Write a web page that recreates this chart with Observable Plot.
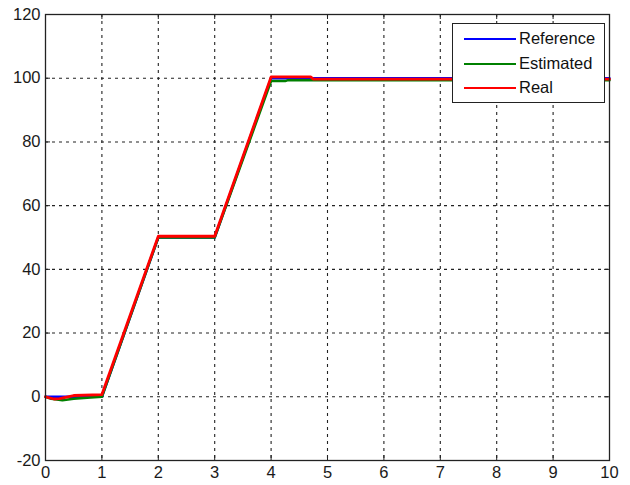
<!DOCTYPE html>
<html>
<head>
<meta charset="utf-8">
<script src="https://cdn.jsdelivr.net/npm/d3@7"></script>
<script src="https://cdn.jsdelivr.net/npm/@observablehq/plot@0.6"></script>
<style>
  html, body { margin: 0; padding: 0; background: white; }
  #wrap { position: relative; width: 630px; height: 485px; font-family: "Liberation Sans", Arial, sans-serif; }
  #legend { position: absolute; left: 452px; top: 23px; width: 151px; height: 78px; border: 1.5px solid #222; background: white; }
  .sw { position: absolute; left: 11px; width: 52px; height: 0; border-top: 2.5px solid; }
  .lab { position: absolute; left: 66px; font-size: 16.5px; color: #111; white-space: nowrap; line-height: 18px; }
</style>
</head>
<body>
<div id="wrap"></div>
<script>
// ---- data ----
const seriesNames = ["Reference", "Estimated", "Real"];
const seriesColors = ["#0000ff", "#008000", "#ff0000"];

const tRef = [0, 1, 2, 3, 4, 10];
const yRef = [0, 0, 50, 50, 100, 100];

const tEst = [0, 0.1, 0.3, 0.5, 0.8, 1, 2, 3, 4, 4.25, 4.3, 10];
const yEst = [0, -0.6, -1.1, -0.6, -0.2, 0, 50, 50, 99.1, 99.1, 99.4, 99.4];

const tReal = [0, 0.15, 0.25, 0.5, 1, 2, 3, 4, 4.7, 4.75, 10];
const yReal = [0, -0.7, -0.6, 0.4, 0.7, 50.4, 50.4, 100.4, 100.4, 99.7, 99.7];

const xTicks = [0, 1, 2, 3, 4, 5, 6, 7, 8, 9, 10];
const yTicks = [-20, 0, 20, 40, 60, 80, 100, 120];

// ---- build table ----
const rows = [];
[[tRef, yRef], [tEst, yEst], [tReal, yReal]].forEach(([ts, ys], i) => {
  ts.forEach((t, j) => rows.push({series: seriesNames[i], t, v: ys[j]}));
});

const W = 630, H = 485;
const mL = 45, mR = 21, mT = 14, mB = 25;
const plotH = H - mT - mB, plotW = W - mL - mR;
const tickLen = 5;

const innerX = xTicks.slice(1, -1);
const innerY = yTicks.slice(1, -1);

const chart = Plot.plot({
  width: W,
  height: H,
  marginLeft: mL,
  marginRight: mR,
  marginTop: mT,
  marginBottom: mB,
  style: {fontSize: "16.5px", fontFamily: "Liberation Sans, Arial, sans-serif", color: "#1a1a1a", background: "white"},
  x: {domain: [0, 10], ticks: xTicks, label: null},
  y: {domain: [-20, 120], ticks: yTicks, label: null},
  marks: [
    Plot.ruleX(innerX, {x: d => d, stroke: "#222", strokeWidth: 1.1, strokeDasharray: "3,4"}),
    Plot.ruleY(innerY, {y: d => d, stroke: "#222", strokeWidth: 1.1, strokeDasharray: "3,4"}),
    // inward solid ticks on all four sides
    Plot.ruleX(innerX, {x: d => d, stroke: "#222", insetTop: plotH - tickLen}),
    Plot.ruleX(innerX, {x: d => d, stroke: "#222", insetBottom: plotH - tickLen}),
    Plot.ruleY(innerY, {y: d => d, stroke: "#222", insetRight: plotW - tickLen}),
    Plot.ruleY(innerY, {y: d => d, stroke: "#222", insetLeft: plotW - tickLen}),
    Plot.line(rows.filter(d => d.series === "Reference"), {x: "t", y: "v", stroke: seriesColors[0], strokeWidth: 2.5}),
    Plot.line(rows.filter(d => d.series === "Estimated"), {x: "t", y: "v", stroke: seriesColors[1], strokeWidth: 2.5}),
    Plot.line(rows.filter(d => d.series === "Real"), {x: "t", y: "v", stroke: seriesColors[2], strokeWidth: 2.8}),
    Plot.frame({stroke: "#222", strokeWidth: 1.3}),
    Plot.axisX({ticks: xTicks, tickSize: 0, tickPadding: 6, tickFormat: d => String(d), label: null}),
    Plot.axisY({ticks: yTicks, tickSize: 0, tickPadding: 5, tickFormat: d => String(d), label: null})
  ]
});

const wrap = document.getElementById("wrap");
wrap.appendChild(chart);

// ---- legend ----
const legend = document.createElement("div");
legend.id = "legend";
const rowTops = [15, 40, 64];
seriesNames.forEach((name, i) => {
  const sw = document.createElement("div");
  sw.className = "sw";
  sw.style.top = (rowTops[i] - 1) + "px";
  sw.style.borderTopColor = seriesColors[i];
  legend.appendChild(sw);
  const lab = document.createElement("div");
  lab.className = "lab";
  lab.style.top = (rowTops[i] - 10) + "px";
  lab.textContent = name;
  legend.appendChild(lab);
});
wrap.appendChild(legend);
</script>
</body>
</html>
